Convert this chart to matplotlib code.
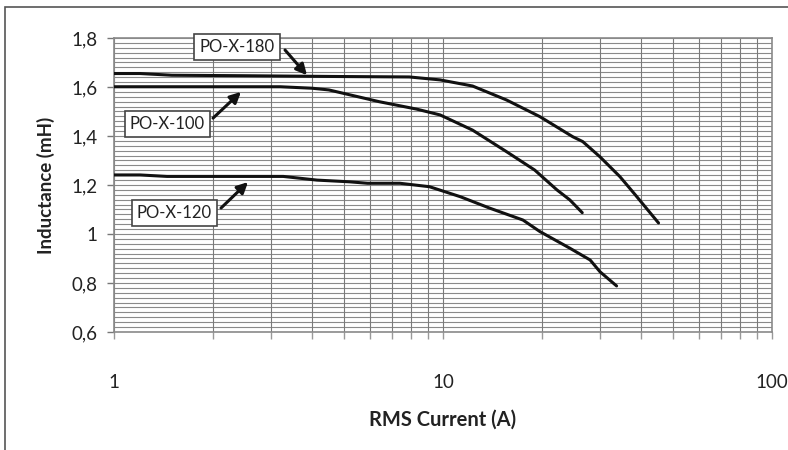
import numpy as np
import matplotlib
matplotlib.use('Agg')
import matplotlib.pyplot as plt
from matplotlib.patches import Rectangle
from matplotlib.ticker import FixedLocator, FixedFormatter, NullFormatter

plt.rcParams['font.family'] = ['Lato', 'DejaVu Sans']

# PO-X-180
i180 = [1.0, 1.2, 1.5, 2.5, 4.6, 7.9, 9.8, 12.3, 15.6, 19.7, 24.8, 26.6, 30.0, 34.5, 38.4, 45.2]
l180 = [1.655, 1.655, 1.648, 1.646, 1.643, 1.641, 1.629, 1.604, 1.547, 1.479, 1.397, 1.377, 1.315, 1.234, 1.16, 1.045]

# PO-X-100
i100 = [1.0, 3.2, 4.0, 4.5, 6.4, 8.3, 9.8, 12.3, 15.6, 19.0, 22.2, 24.3, 26.5]
l100 = [1.601, 1.601, 1.595, 1.588, 1.54, 1.51, 1.486, 1.424, 1.336, 1.261, 1.18, 1.139, 1.087]

# PO-X-120
i120 = [1.0, 1.2, 1.45, 3.27, 4.14, 5.2, 5.9, 7.4, 9.1, 11.3, 13.9, 17.5, 19.7, 24.3, 28.0, 30.0, 33.7]
l120 = [1.241, 1.241, 1.235, 1.235, 1.22, 1.213, 1.207, 1.207, 1.193, 1.152, 1.105, 1.057, 1.01, 0.942, 0.894, 0.846, 0.788]

ytick_vals = [0.6, 0.8, 1.0, 1.2, 1.4, 1.6, 1.8]
ytick_labels = ['0,6', '0,8', '1', '1,2', '1,4', '1,6', '1,8']
xtick_vals = [1, 10, 100]
xtick_labels = ['1', '10', '100']

fig = plt.figure(figsize=(7.88, 4.5), dpi=100)
ax = fig.add_axes([114 / 788, 118 / 450, 658 / 788, 294 / 450])

# outer frame of the picture
fig.add_artist(Rectangle((5 / 788, -0.1), 1.2, (443 / 450) + 0.1, transform=fig.transFigure,
                         fill=False, edgecolor='#555555', lw=1.2))

grid_c = '#8a8a8a'
minor_y = np.arange(0.6, 1.8001, 0.02)
for y in minor_y:
    ax.axhline(y, color=grid_c, lw=0.8, zorder=1)
minor_x = [m * d for d in (1, 10) for m in range(2, 10)]
for x in minor_x + xtick_vals:
    ax.axvline(x, color='#7a7a7a', lw=0.8, zorder=1)

for xs, ys in [(i180, l180), (i100, l100), (i120, l120)]:
    ax.plot(xs, ys, color='#111111', lw=2.2, zorder=3, solid_capstyle='round')

ax.set_xscale('log')
ax.set_xlim(1, 100)
ax.set_ylim(0.6, 1.8)

ax.yaxis.set_major_locator(FixedLocator(ytick_vals))
ax.yaxis.set_major_formatter(FixedFormatter(ytick_labels))
ax.yaxis.set_minor_locator(FixedLocator([]))
ax.xaxis.set_major_locator(FixedLocator(xtick_vals))
ax.xaxis.set_major_formatter(FixedFormatter(xtick_labels))
ax.xaxis.set_minor_locator(FixedLocator(minor_x))
ax.xaxis.set_minor_formatter(NullFormatter())

ax.tick_params(axis='y', which='major', direction='out', length=5, width=1, color='#777777',
               labelsize=13.5, pad=7, labelcolor='#222222')
ax.tick_params(axis='x', which='both', direction='out', length=5, width=1, color='#999999',
               labelsize=13.5, pad=25, labelcolor='#222222')

for s in ax.spines.values():
    s.set_color('#8a8a8a')
    s.set_linewidth(1.2)

ax.set_xlabel('RMS Current (A)', fontsize=14.5, fontweight='bold', labelpad=14, color='#222222')
ax.set_ylabel('Inductance (mH)', fontsize=13.5, fontweight='bold', labelpad=12, color='#222222')

box = dict(boxstyle='square,pad=0.3', facecolor='white', edgecolor='#444444', lw=1.2)
arrow = dict(arrowstyle='-|>', color='#111111', lw=2.2, mutation_scale=16, shrinkA=0, shrinkB=0)

labels = [
    ('PO-X-180', (2.365, 1.763), (3.31, 1.751), (3.86, 1.648)),
    ('PO-X-100', (1.454, 1.451), (2.0, 1.473), (2.432, 1.58)),
    ('PO-X-120', (1.527, 1.084), (2.115, 1.106), (2.555, 1.212)),
]
for name, tpos, tail, head in labels:
    ax.annotate('', xy=head, xytext=tail, arrowprops=arrow, zorder=5)
    ax.text(tpos[0], tpos[1], name, ha='center', va='center', fontsize=12,
            color='#222222', bbox=box, zorder=6)

fig.savefig('out.png', dpi=100)
